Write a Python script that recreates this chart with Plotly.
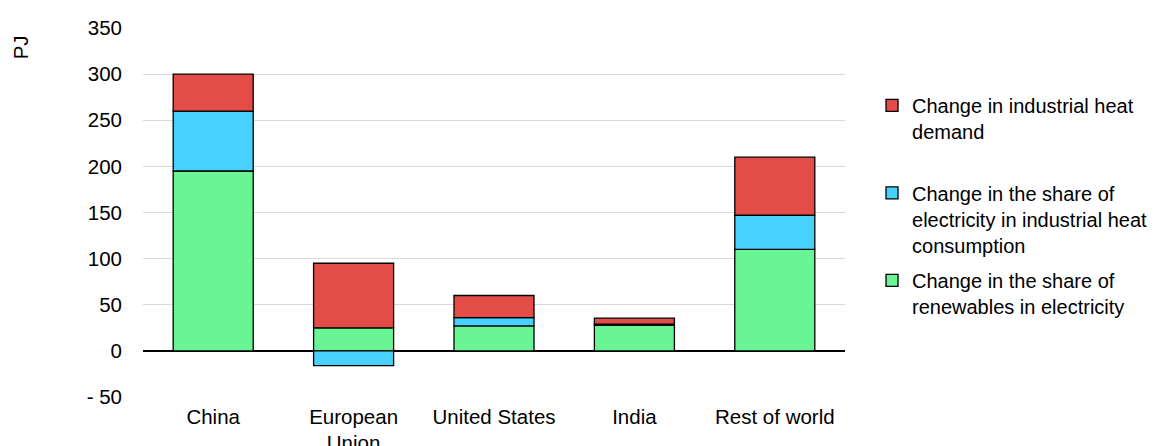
import plotly.graph_objects as go

categories = ["China", "European<br>Union", "United States", "India", "Rest of world"]
renewables = [195, 25, 27, 28, 110]
electricity_share = [65, -16, 9, 1, 37]
heat_demand = [40, 70, 24, 6.5, 63]

tick_vals = [-50, 0, 50, 100, 150, 200, 250, 300, 350]
tick_text = ["- 50", "0", "50", "100", "150", "200", "250", "300", "350"]

series_names = [
    "Change in the share of<br>renewables in electricity",
    "Change in the share of<br>electricity in industrial heat<br>consumption",
    "Change in industrial heat<br>demand<br>\u00a0",
]
colors = ["#69f593", "#47d1ff", "#e34c47"]
legend_ranks = [3, 2, 1]

FONT = "Liberation Sans, Arial, sans-serif"
FS = 20.5
LFS = 20

fig = go.Figure()
for i, (name, vals, col, rank) in enumerate(zip(series_names, [renewables, electricity_share, heat_demand], colors, legend_ranks)):
    fig.add_trace(go.Bar(
        x=categories, y=vals, name=name, legendgroup=f"g{i}", legendrank=rank,
        marker=dict(color=col, line=dict(color="#000000", width=1.3)),
        width=0.57,
    ))

fig.update_layout(
    barmode="relative",
    width=1148, height=438,
    margin=dict(l=135, r=311, t=20, b=49, autoexpand=False),
    paper_bgcolor="white", plot_bgcolor="white",
    font=dict(family=FONT, size=FS, color="#000000"),
    showlegend=True,
    legend=dict(
        traceorder="grouped", valign="top",
        x=1.0385, xanchor="left", y=0.843, yanchor="top",
        font=dict(size=LFS), tracegroupgap=6.5,
        itemwidth=30,
    ),
    xaxis=dict(showgrid=False, showline=False, ticks="outside", ticklen=1,
               tickcolor="rgba(0,0,0,0)", tickfont=dict(size=FS), automargin=False),
    yaxis=dict(
        range=[-50, 350], tickvals=tick_vals, ticktext=tick_text,
        showgrid=True, gridcolor="#d9d9d9", gridwidth=1.3,
        zeroline=True, zerolinecolor="#000000", zerolinewidth=1.5,
        showline=False, ticklabelstandoff=20, tickfont=dict(size=FS),
        automargin=False,
    ),
    annotations=[dict(
        text="PJ", textangle=-90, xref="paper", yref="paper",
        x=-0.175, y=0.948, xanchor="center", yanchor="middle",
        showarrow=False, font=dict(size=FS),
    )],
)

fig.write_html("out.html")
